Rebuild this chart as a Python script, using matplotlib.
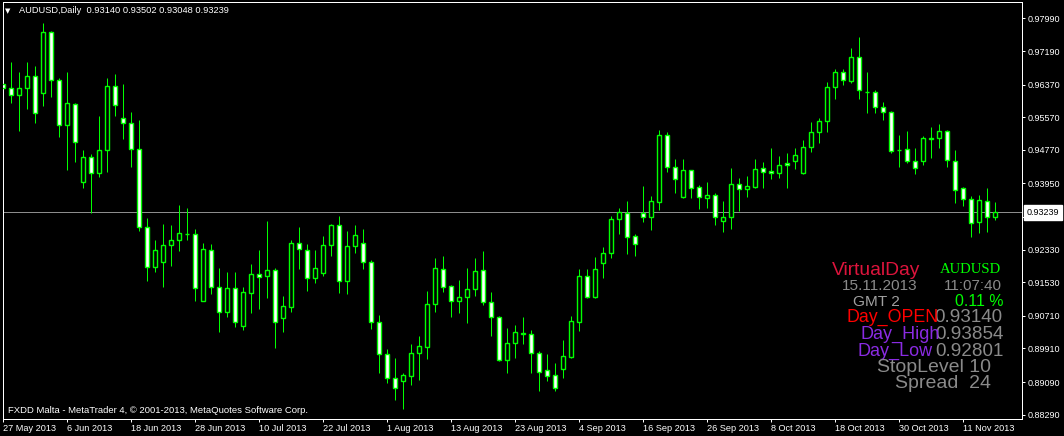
import matplotlib
matplotlib.use("Agg")
import matplotlib.pyplot as plt
from matplotlib.transforms import blended_transform_factory

# AUDUSD daily candles, 27 May 2013 .. 15 Nov 2013
opens = [
    0.96382, 0.96280, 0.96106, 0.96277, 0.96578, 0.96155, 0.97648, 0.96473, 0.95372, 0.95886,
    0.93977, 0.94589, 0.94197, 0.94761, 0.96326, 0.95543, 0.95421, 0.94784, 0.92876, 0.91912,
    0.92020, 0.92435, 0.92565, 0.92720, 0.92705, 0.91080, 0.92321, 0.91407, 0.90810, 0.91383,
    0.90468, 0.91276, 0.91726, 0.91691, 0.91831, 0.90649, 0.90934, 0.92484, 0.92321, 0.91642,
    0.91750, 0.92435, 0.92925, 0.91569, 0.92418, 0.92484, 0.92020, 0.90566, 0.89769, 0.89195,
    0.89122, 0.89245, 0.89793, 0.89955, 0.90992, 0.91848, 0.91432, 0.91080, 0.91178, 0.91367,
    0.91824, 0.91056, 0.90673, 0.89629, 0.90037, 0.90270, 0.90258, 0.89793, 0.89384, 0.89254,
    0.89401, 0.89710, 0.90566, 0.91684, 0.91178, 0.91995, 0.92240, 0.93072, 0.93218, 0.92663,
    0.93218, 0.93135, 0.93503, 0.95135, 0.94344, 0.93625, 0.94278, 0.93854, 0.93600, 0.93666,
    0.93038, 0.93120, 0.93935, 0.93805, 0.93869, 0.94319, 0.94246, 0.94197, 0.94442, 0.94498,
    0.94197, 0.94833, 0.95201, 0.95470, 0.96301, 0.96669, 0.96463, 0.97036, 0.96185, 0.96180,
    0.95812, 0.95690, 0.94775, 0.94784, 0.94506, 0.94506, 0.95040, 0.95049, 0.95233, 0.94498,
    0.93829, 0.93561, 0.92998, 0.93527, 0.93140,
]
highs = [
    0.96627, 0.96928, 0.96683, 0.96928, 0.96823, 0.97868, 0.97687, 0.96522, 0.96676, 0.95925,
    0.94768, 0.94670, 0.95599, 0.96522, 0.96627, 0.96382, 0.95704, 0.95502, 0.93096, 0.92565,
    0.92957, 0.92933, 0.93422, 0.93341, 0.92835, 0.92499, 0.92467, 0.91887, 0.91782, 0.91782,
    0.91422, 0.91978, 0.92321, 0.93038, 0.91873, 0.91195, 0.92565, 0.92876, 0.92467, 0.92321,
    0.92663, 0.92957, 0.93152, 0.92786, 0.92933, 0.92835, 0.92076, 0.90730, 0.89898, 0.89685,
    0.89303, 0.90020, 0.90216, 0.91318, 0.92132, 0.92174, 0.91464, 0.91586, 0.91887, 0.92125,
    0.92297, 0.91286, 0.90705, 0.90405, 0.90486, 0.90673, 0.90363, 0.89857, 0.89776, 0.89548,
    0.90118, 0.90705, 0.91856, 0.91856, 0.92157, 0.92402, 0.93160, 0.93348, 0.93520, 0.92712,
    0.93886, 0.93642, 0.95257, 0.95208, 0.94548, 0.94548, 0.94278, 0.93918, 0.93984, 0.93715,
    0.93520, 0.94327, 0.94075, 0.94131, 0.94548, 0.94467, 0.94816, 0.94628, 0.94687, 0.94824,
    0.95012, 0.95446, 0.95558, 0.96439, 0.96742, 0.96742, 0.97271, 0.97540, 0.96676, 0.96236,
    0.95949, 0.95729, 0.95135, 0.95233, 0.94817, 0.95110, 0.95338, 0.95404, 0.95257, 0.94768,
    0.93869, 0.93649, 0.93666, 0.93830, 0.93502,
]
lows = [
    0.96089, 0.95925, 0.95240, 0.95763, 0.95436, 0.95851, 0.96057, 0.95078, 0.94278, 0.94467,
    0.93844, 0.93218, 0.94114, 0.94236, 0.95599, 0.95044, 0.94359, 0.92793, 0.91569, 0.91789,
    0.91422, 0.91936, 0.92304, 0.92565, 0.91080, 0.91070, 0.91244, 0.90321, 0.90688, 0.90444,
    0.90363, 0.90786, 0.90884, 0.91153, 0.89929, 0.90321, 0.90810, 0.91856, 0.91318, 0.91520,
    0.91691, 0.92181, 0.91276, 0.91244, 0.92240, 0.91848, 0.90388, 0.89303, 0.89058, 0.88650,
    0.88430, 0.89017, 0.89139, 0.89654, 0.90810, 0.91300, 0.90688, 0.90786, 0.90542, 0.91202,
    0.90975, 0.90223, 0.89605, 0.89303, 0.89671, 0.90013, 0.89303, 0.88878, 0.89122, 0.88878,
    0.89195, 0.89685, 0.90346, 0.91139, 0.91139, 0.91642, 0.92132, 0.92712, 0.92223, 0.92174,
    0.93006, 0.92810, 0.93299, 0.94236, 0.93723, 0.93600, 0.93600, 0.93323, 0.93355, 0.92933,
    0.92761, 0.92835, 0.93275, 0.93625, 0.93844, 0.93844, 0.94058, 0.94089, 0.93844, 0.94303,
    0.94180, 0.94726, 0.94946, 0.95215, 0.96008, 0.96358, 0.96399, 0.96008, 0.95680, 0.95680,
    0.95502, 0.94687, 0.94359, 0.94457, 0.94173, 0.94401, 0.94579, 0.94824, 0.94359, 0.93478,
    0.93397, 0.92646, 0.92744, 0.92768, 0.93048,
]
closes = [
    0.96284, 0.96106, 0.96277, 0.96578, 0.95665, 0.97648, 0.96473, 0.95372, 0.95910, 0.94956,
    0.94589, 0.94197, 0.94761, 0.96326, 0.95861, 0.95421, 0.94784, 0.92876, 0.91912, 0.92321,
    0.92435, 0.92565, 0.92729, 0.92710, 0.91383, 0.92338, 0.91407, 0.90810, 0.91383, 0.90566,
    0.91286, 0.91726, 0.91667, 0.91831, 0.90566, 0.90950, 0.92484, 0.92338, 0.91642, 0.91873,
    0.92435, 0.92925, 0.91569, 0.92418, 0.92680, 0.92020, 0.90566, 0.89769, 0.89195, 0.88950,
    0.89262, 0.89793, 0.89972, 0.90992, 0.91873, 0.91422, 0.91080, 0.91163, 0.91358, 0.91799,
    0.91056, 0.90673, 0.89629, 0.90037, 0.90307, 0.90280, 0.89793, 0.89342, 0.89245, 0.88950,
    0.89727, 0.90583, 0.91684, 0.91178, 0.91856, 0.92240, 0.93079, 0.93243, 0.92646, 0.92460,
    0.93135, 0.93512, 0.95135, 0.94344, 0.94050, 0.94278, 0.93844, 0.93625, 0.93666, 0.93120,
    0.93120, 0.93935, 0.93805, 0.93886, 0.94295, 0.94236, 0.94197, 0.94401, 0.94393, 0.94638,
    0.94833, 0.95201, 0.95470, 0.96301, 0.96669, 0.96480, 0.97036, 0.96228, 0.96175, 0.95812,
    0.95690, 0.94751, 0.94760, 0.94506, 0.94319, 0.95068, 0.95055, 0.95233, 0.94523, 0.93781,
    0.93561, 0.92974, 0.93544, 0.93120, 0.93239,
]

date_labels = ["27 May 2013", "6 Jun 2013", "18 Jun 2013", "28 Jun 2013", "10 Jul 2013",
               "22 Jul 2013", "1 Aug 2013", "13 Aug 2013", "23 Aug 2013", "4 Sep 2013",
               "16 Sep 2013", "26 Sep 2013", "8 Oct 2013", "18 Oct 2013", "30 Oct 2013",
               "11 Nov 2013"]
price_ticks = [0.97990, 0.97190, 0.96370, 0.95570, 0.94770, 0.93950, 0.93140,
               0.92330, 0.91530, 0.90710, 0.89910, 0.89090, 0.88290]
bid = 0.93239

# infopanel of the indicator
day_open, day_high, day_low = "0.93140", "0.93854", "0.92801"
change_pct = "0.11 %"
panel_date, panel_time = "15.11.2013", "11:07:40"
stop_level, spread = 10, 24

W, H = 1064, 436
GREEN = "#00ff00"
FONT = "Liberation Sans"
PX = 0.72  # one pixel in points at 100 dpi

fig = plt.figure(figsize=(W / 100, H / 100), dpi=100, facecolor="black")
ax = fig.add_axes([2.5 / W, (H - 418.5) / H, 1019 / W, 416 / H], facecolor="black")

xs = list(range(len(opens)))
bottoms = [min(o, c) for o, c in zip(opens, closes)]
heights = [abs(c - o) for o, c in zip(opens, closes)]
fills = ["white" if c < o else "black" for o, c in zip(opens, closes)]

ax.axhline(bid, color="#8c8c8c", lw=PX, zorder=1)
ax.vlines(xs, lows, highs, color=GREEN, lw=PX, zorder=2, snap=True)
ax.bar(xs, heights, bottom=bottoms, width=0.5, color=fills, edgecolor=GREEN,
       linewidth=1.0, zorder=3, snap=True)

ax.set_xlim(-0.0625, 127.31)
ax.set_ylim(0.88197, 0.98377)

for s in ax.spines.values():
    s.set_color("white")
    s.set_linewidth(PX)

ax.set_xticks(xs[::8])
ax.set_xticklabels(date_labels, fontsize=6.6, family=FONT, color="white", ha="left")
ax.tick_params(axis="x", colors="white", length=2.5, width=PX, pad=1.2)

# the tick label hidden behind the bid box is left empty
ax.yaxis.tick_right()
ax.set_yticks(price_ticks)
ax.set_yticklabels(["" if abs(p - bid) < 0.002 else f"{p:.5f}" for p in price_ticks],
                   fontsize=6.5, family=FONT, color="white")
ax.tick_params(axis="y", colors="white", length=2.5, width=PX, pad=2.2)

tr = blended_transform_factory(ax.transAxes, ax.transData)
ax.text(1.0052, bid, f"{bid:.5f}", transform=tr, fontsize=6.5, family=FONT,
        color="black", va="center", ha="left", zorder=5,
        bbox=dict(boxstyle="square,pad=0.35", facecolor="white", edgecolor="white"))

# header and footer
fig.text(5.2 / W, 1 - 13 / H, "\u25bc", fontsize=5, color="white", family="DejaVu Sans")
fig.text(19 / W, 1 - 13.3 / H,
         f"AUDUSD,Daily  {opens[-1]:.5f} {highs[-1]:.5f} {lows[-1]:.5f} {closes[-1]:.5f}",
         fontsize=6.7, color="white", family=FONT)
fig.text(7.5 / W, 1 - 413.3 / H,
         "FXDD Malta - MetaTrader 4, \u00a9 2001-2013, MetaQuotes Software Corp.",
         fontsize=6.8, color="white", family=FONT)


def label(x, y, s, color, size, family=FONT):
    fig.text(x / W, 1 - y / H, s, color=color, fontsize=size, family=family,
             va="baseline", ha="left")


GRAY = "#8a8a8a"
label(940, 273.3, "AUDUSD", GREEN, 10.6, "Liberation Serif")
label(944, 290.5, panel_time, GRAY, 11)
label(955, 305.7, change_pct, GREEN, 11.4)
label(934.5, 322.3, day_open, GRAY, 13.6)
label(935, 339.2, day_high, GRAY, 13.6)
label(935, 355.8, day_low, GRAY, 13.6)
label(831.7, 275, "VirtualDay", "#dc143c", 13.9)
label(841.7, 290.5, panel_date, GRAY, 11.1)
label(853.3, 305.7, "GMT 2", "#a0a0a0", 11.1)
label(846.7, 322.3, "Day_OPEN", "#ff0000", 12.8)
label(860, 339.2, "Day_High", "#8a2be2", 13)
label(857.7, 355.8, "Day_Low", "#8a2be2", 13)
label(876.7, 372.3, f"StopLevel {stop_level}", GRAY, 14)
label(895, 388.3, f"Spread  {spread}", GRAY, 14)

fig.savefig("out.png", dpi=100, facecolor="black")
